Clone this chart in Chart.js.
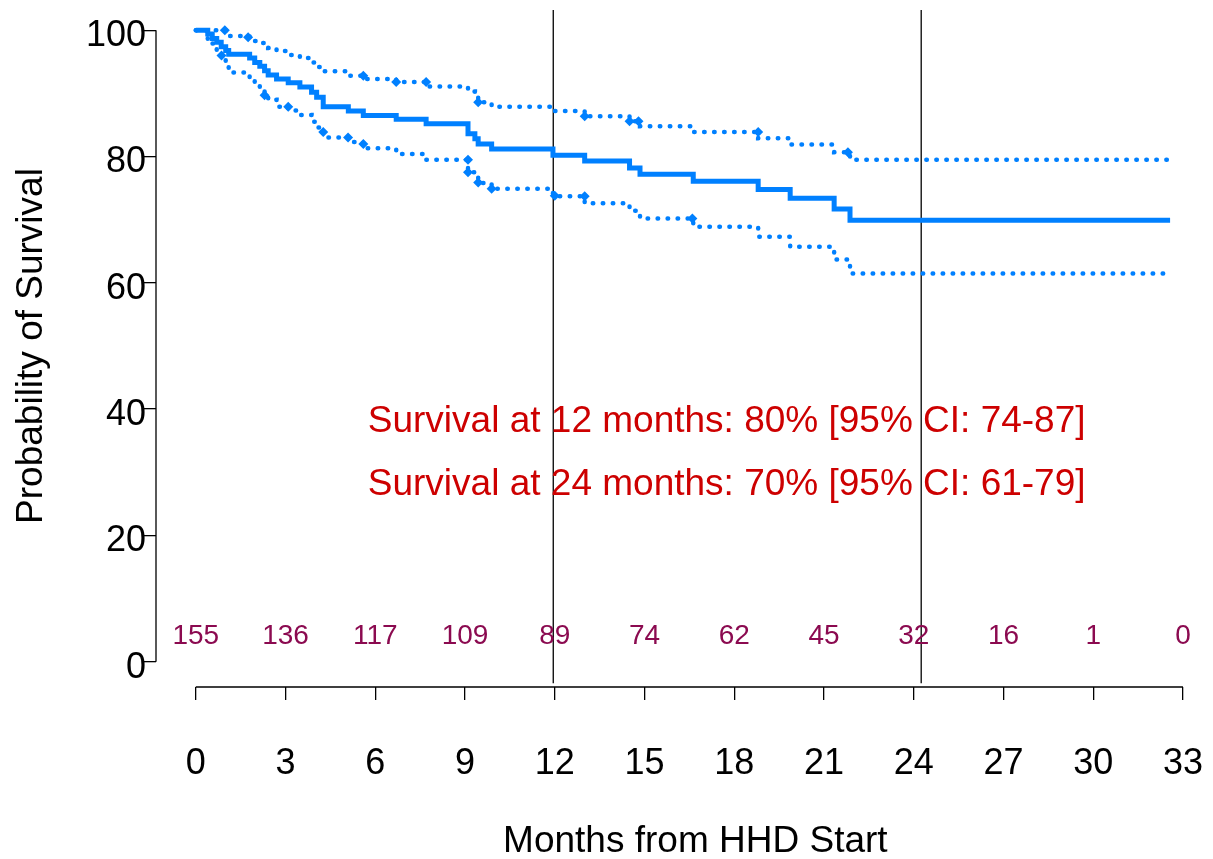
<!DOCTYPE html>
<html lang="en">
<head>
    <meta charset="UTF-8">
    <title>Survival from HHD Start</title>
    <script src="https://cdn.jsdelivr.net/npm/chart.js"></script>
    <style>
        html, body { margin: 0; padding: 0; background: #fff; }
        canvas { display: block; }
    </style>
</head>
<body>
    <canvas id="kmChart" width="1213" height="859"></canvas>

    <script>
        // Kaplan-Meier estimate and 95% CI (months, %)
        const times = [0, 0.4, 0.55, 0.7, 0.85, 1.0, 1.1, 1.8, 1.97, 2.14, 2.3, 2.42, 2.7, 3.09, 3.48, 3.87, 4.04, 4.26,
                       5.1, 5.6, 6.7, 7.7, 9.1, 9.33, 9.44, 9.89, 11.94, 13.0, 14.5, 14.85, 16.63, 18.8, 19.87, 21.34, 21.87, 32.57];
        const surv  = [100, 99.4, 98.7, 98.1, 97.4, 96.8, 96.2, 95.6, 94.9, 94.3, 93.6, 92.9, 92.3, 91.7, 91.0, 90.2, 89.4, 87.9,
                       87.2, 86.5, 85.9, 85.2, 83.6, 82.8, 82.0, 81.2, 80.2, 79.3, 78.2, 77.2, 76.1, 74.8, 73.4, 71.7, 69.9, 69.9];
        const upper = [100, 100, 100, 100, 100, 99.6, 99.1, 98.6, 98.3, 98.0, 97.6, 97.2, 96.7, 96.1, 95.6, 94.9, 94.2, 93.5,
                       92.8, 92.3, 91.8, 91.1, 90.3, 89.5, 88.6, 87.9, 87.2, 86.4, 85.6, 84.8, 83.9, 82.9, 81.9, 80.7, 79.5, 79.5];
        const lower = [100, 98.2, 97.9, 96.8, 96.0, 94.7, 93.3, 92.3, 91.4, 90.6, 89.7, 89.0, 87.9, 87.3, 86.6, 85.5, 84.6, 83.0,
                       82.3, 81.3, 80.4, 79.5, 77.5, 76.7, 75.8, 74.9, 73.7, 72.6, 71.4, 70.2, 68.9, 67.3, 65.7, 63.7, 61.5, 61.5];

        // censoring marks (diamonds) on the confidence bands
        const upperMarkT = [0.97, 1.75, 5.6, 6.7, 7.7, 9.44, 13.0, 14.5, 14.8, 18.8, 21.8];
        const upperMarkY = [100, 98.9, 92.8, 91.8, 91.8, 88.6, 86.4, 85.6, 85.6, 83.9, 80.7];
        const lowerMarkT = [0.86, 2.3, 3.09, 4.26, 5.09, 5.6, 9.1, 9.1, 9.44, 9.89, 12.0, 13.0, 16.6];
        const lowerMarkY = [96.0, 89.7, 87.9, 83.9, 83.0, 82.0, 79.5, 77.5, 75.9, 74.9, 73.8, 73.7, 70.2];

        // reference lines at 12 and 24 months
        const refX = [11.95, 24.25];
        const refY = [-3.4, 103.2];

        // numbers at risk
        const riskTimes  = [0, 3, 6, 9, 12, 15, 18, 21, 24, 27, 30, 33];
        const riskCounts = [155, 136, 117, 109, 89, 74, 62, 45, 32, 16, 1, 0];
        const riskY = 4;

        const notes = ['Survival at 12 months: 80% [95% CI: 74-87]',
                       'Survival at 24 months: 70% [95% CI: 61-79]'];
        const notesX = 5.75;
        const notesY = [38, 28];

        const xTicks = [0, 3, 6, 9, 12, 15, 18, 21, 24, 27, 30, 33];
        const yTicks = [0, 20, 40, 60, 80, 100];
        const xTitle = 'Months from HHD Start';

        const FONT = "'Liberation Sans', Arial, Helvetica, sans-serif";
        const BLUE = '#0080FF';

        const pts = (xs, ys) => xs.map((x, i) => ({ x: x, y: ys[i] }));

        // axis lines only across the tick range, plus the texts in the plot
        const annotate = {
            id: 'annotate',
            beforeDatasetsDraw(chart) {
                const { ctx, chartArea, scales: { x, y } } = chart;
                ctx.save();
                ctx.strokeStyle = '#000';
                ctx.lineWidth = 1.3;
                ctx.beginPath();
                ctx.moveTo(chartArea.left, y.getPixelForValue(yTicks[0]));
                ctx.lineTo(chartArea.left, y.getPixelForValue(yTicks[yTicks.length - 1]));
                ctx.moveTo(x.getPixelForValue(xTicks[0]), chartArea.bottom);
                ctx.lineTo(x.getPixelForValue(xTicks[xTicks.length - 1]), chartArea.bottom);
                ctx.stroke();
                ctx.restore();
            },
            afterDatasetsDraw(chart) {
                const { ctx, scales: { x, y } } = chart;
                ctx.save();
                ctx.textBaseline = 'middle';

                ctx.fillStyle = '#8B0A50';
                ctx.textAlign = 'center';
                ctx.font = '28px ' + FONT;
                riskTimes.forEach((t, i) => {
                    ctx.fillText(String(riskCounts[i]), x.getPixelForValue(t), y.getPixelForValue(riskY));
                });

                ctx.fillStyle = '#CD0000';
                ctx.textAlign = 'left';
                ctx.font = '37px ' + FONT;
                notes.forEach((txt, i) => {
                    ctx.fillText(txt, x.getPixelForValue(notesX), y.getPixelForValue(notesY[i]));
                });

                // x title, centred on the full plot region as in the original
                ctx.fillStyle = '#000';
                ctx.textAlign = 'center';
                ctx.fillText(xTitle, x.getPixelForValue(16.7), 842);
                ctx.restore();
            }
        };

        const refSets = refX.map(v => ({
            data: pts([v, v], refY),
            borderColor: '#000',
            borderWidth: 1.3,
            pointRadius: 0
        }));

        new Chart(document.getElementById('kmChart'), {
            type: 'line',
            data: {
                datasets: [
                    {
                        label: 'Survival',
                        data: pts(times, surv),
                        stepped: true,
                        borderColor: BLUE,
                        borderWidth: 5,
                        pointRadius: 0
                    },
                    {
                        label: 'Upper 95% CI',
                        data: pts(times, upper),
                        stepped: true,
                        borderColor: BLUE,
                        borderWidth: 4.5,
                        borderDash: [0.5, 9.5],
                        borderCapStyle: 'round',
                        pointRadius: 0
                    },
                    {
                        label: 'Lower 95% CI',
                        data: pts(times, lower),
                        stepped: true,
                        borderColor: BLUE,
                        borderWidth: 4.5,
                        borderDash: [0.5, 9.5],
                        borderCapStyle: 'round',
                        pointRadius: 0
                    },
                    {
                        label: 'Censored (upper)',
                        data: pts(upperMarkT, upperMarkY),
                        showLine: false,
                        pointStyle: 'rectRot',
                        pointRadius: 5,
                        pointBackgroundColor: BLUE,
                        pointBorderWidth: 0
                    },
                    {
                        label: 'Censored (lower)',
                        data: pts(lowerMarkT, lowerMarkY),
                        showLine: false,
                        pointStyle: 'rectRot',
                        pointRadius: 5,
                        pointBackgroundColor: BLUE,
                        pointBorderWidth: 0
                    },
                    ...refSets
                ]
            },
            options: {
                responsive: false,
                animation: false,
                devicePixelRatio: 1,
                layout: { padding: { top: 4, right: 13, left: 0, bottom: 0 } },
                plugins: {
                    legend: { display: false },
                    tooltip: { enabled: false }
                },
                scales: {
                    x: {
                        type: 'linear',
                        min: -1.33,
                        max: 33.57,
                        afterBuildTicks: s => { s.ticks = xTicks.map(v => ({ value: v })); },
                        afterFit: s => { s.height = 172; s.paddingLeft = 0; s.paddingRight = 0; },
                        border: { display: false },
                        grid: { drawOnChartArea: false, drawTicks: true, tickLength: 13, color: '#000', lineWidth: 1.3 },
                        ticks: { autoSkip: false, maxRotation: 0, padding: 42, color: '#000', font: { family: FONT, size: 36 } },
                        title: { display: false }
                    },
                    y: {
                        type: 'linear',
                        min: -4,
                        max: 104,
                        afterBuildTicks: s => { s.ticks = yTicks.map(v => ({ value: v })); },
                        afterFit: s => { s.width = 156; s.paddingTop = 0; s.paddingBottom = 0; },
                        border: { display: false },
                        grid: { drawOnChartArea: false, drawTicks: true, tickLength: 12, color: '#000', lineWidth: 1.3 },
                        ticks: { padding: -2, labelOffset: 6, color: '#000', font: { family: FONT, size: 36 } },
                        title: {
                            display: true,
                            text: 'Probability of Survival',
                            color: '#000',
                            font: { family: FONT, size: 37, lineHeight: 1.2 },
                            padding: { top: 10, bottom: 0 }
                        }
                    }
                }
            },
            plugins: [annotate]
        });
    </script>
</body>
</html>
